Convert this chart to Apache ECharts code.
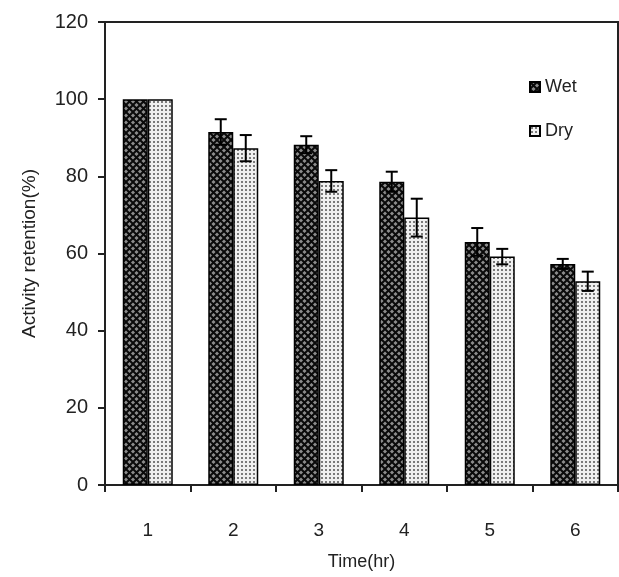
<!DOCTYPE html>
<html>
<head>
<meta charset="utf-8">
<script src="https://cdn.jsdelivr.net/npm/echarts@6/dist/echarts.min.js"></script>
<style>
  html, body { margin: 0; padding: 0; background: #fff; }
  #chart { width: 619px; height: 577px; }
</style>
</head>
<body>
<div id="chart"></div>
<script>
// data
var categories = ['1', '2', '3', '4', '5', '6'];
var wetValues = [100, 91.5, 88.2, 78.6, 63.0, 57.3];
var wetErrors = [0, 3.3, 2.2, 2.6, 3.6, 1.3];
var dryValues = [100, 87.3, 78.8, 69.3, 59.2, 52.8];
var dryErrors = [0, 3.4, 2.8, 4.9, 2.0, 2.5];

var BAR_W = 25;

// hatch patterns
function makeWetPattern() {
  var c = document.createElement('canvas');
  c.width = 7; c.height = 7;
  var g = c.getContext('2d');
  g.fillStyle = '#8c8c8c';
  g.fillRect(0, 0, 7, 7);
  g.strokeStyle = '#0a0a0a';
  g.lineWidth = 2;
  g.beginPath();
  g.moveTo(-1, -1); g.lineTo(8, 8);
  g.moveTo(8, -1); g.lineTo(-1, 8);
  g.stroke();
  return c;
}
function makeDryPattern() {
  var c = document.createElement('canvas');
  c.width = 4; c.height = 4;
  var g = c.getContext('2d');
  g.fillStyle = '#f0f0f0';
  g.fillRect(0, 0, 4, 4);
  g.fillStyle = '#7a7a7a';
  g.fillRect(1, 1, 2, 2);
  return c;
}
var wetFill = { image: makeWetPattern(), repeat: 'repeat' };
var dryFill = { image: makeDryPattern(), repeat: 'repeat' };

// error bars drawn with custom series
function errorSeries(values, errors, shift) {
  var data = values.map(function (v, i) { return [i, v, errors[i]]; });
  return {
    type: 'custom',
    z: 10,
    silent: true,
    data: data,
    renderItem: function (params, api) {
      var i = api.value(0), v = api.value(1), e = api.value(2);
      if (!e) return;
      var top = api.coord([i, v + e]);
      var bot = api.coord([i, v - e]);
      var x = top[0] + shift;
      var cap = 6;
      var st = { stroke: '#000', lineWidth: 2 };
      return {
        type: 'group',
        children: [
          { type: 'line', shape: { x1: x, y1: top[1], x2: x, y2: bot[1] }, style: st },
          { type: 'line', shape: { x1: x - cap, y1: top[1], x2: x + cap, y2: top[1] }, style: st },
          { type: 'line', shape: { x1: x - cap, y1: bot[1], x2: x + cap, y2: bot[1] }, style: st }
        ]
      };
    }
  };
}

var myChart = echarts.init(document.getElementById('chart'));
myChart.setOption({
  animation: false,
  textStyle: { fontFamily: 'Liberation Sans, Arial, sans-serif' },
  grid: {
    left: 105, right: 1, top: 22, bottom: 92,
    show: true, borderColor: '#222', borderWidth: 2
  },
  legend: {
    orient: 'vertical',
    left: 524, top: 73,
    itemGap: 26,
    itemWidth: 10, itemHeight: 10,
    icon: 'rect',
    textStyle: { fontSize: 18, color: '#222' },
    data: ['Wet', 'Dry']
  },
  xAxis: {
    type: 'category',
    data: categories,
    name: 'Time(hr)',
    nameLocation: 'middle',
    nameGap: 68,
    nameTextStyle: { fontSize: 18, color: '#222' },
    axisLine: { lineStyle: { color: '#222', width: 2 } },
    axisTick: { show: true, length: 7, lineStyle: { color: '#222', width: 2 } },
    axisLabel: { fontSize: 19, color: '#222', margin: 36 }
  },
  yAxis: {
    type: 'value',
    min: 0, max: 120, interval: 20,
    name: 'Activity retention(%)',
    nameLocation: 'middle',
    nameGap: 66,
    nameTextStyle: { fontSize: 19, color: '#222' },
    axisLine: { show: true, lineStyle: { color: '#222', width: 2 } },
    axisTick: { show: true, length: 7, lineStyle: { color: '#222', width: 2 } },
    axisLabel: { fontSize: 20, color: '#222', margin: 17 },
    splitLine: { show: false }
  },
  series: [
    {
      name: 'Wet', type: 'bar', data: wetValues,
      barWidth: BAR_W, barGap: '0%',
      itemStyle: { color: wetFill, borderColor: '#000', borderWidth: 1.5 }
    },
    {
      name: 'Dry', type: 'bar', data: dryValues,
      barWidth: BAR_W,
      itemStyle: { color: dryFill, borderColor: '#000', borderWidth: 1.5 }
    },
    errorSeries(wetValues, wetErrors, -BAR_W / 2),
    errorSeries(dryValues, dryErrors, BAR_W / 2)
  ]
});
</script>
</body>
</html>
